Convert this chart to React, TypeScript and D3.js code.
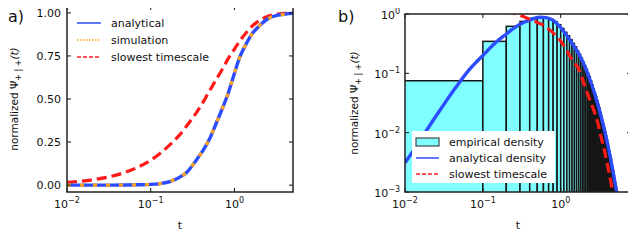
import React from 'react';
import * as d3 from 'd3';

// panel a: cumulative curves
const cdfT = [0.01, 0.02, 0.035, 0.05, 0.07, 0.1, 0.13, 0.17, 0.22, 0.27, 0.35, 0.42, 0.5, 0.6, 0.73, 0.83, 1.0, 1.15, 1.38, 1.6, 1.81, 2.2, 2.6, 3.2, 4.1, 5.0];
const analyticalCdf = [0.0, 0.0, 0.0, 0.001, 0.002, 0.004, 0.009, 0.02, 0.045, 0.075, 0.145, 0.2, 0.265, 0.355, 0.455, 0.525, 0.65, 0.74, 0.82, 0.875, 0.905, 0.945, 0.97, 0.985, 0.993, 0.997];
const simulationCdf = [0.0, 0.0, 0.0, 0.001, 0.002, 0.004, 0.009, 0.021, 0.046, 0.076, 0.146, 0.2, 0.266, 0.356, 0.456, 0.524, 0.651, 0.74, 0.821, 0.874, 0.906, 0.945, 0.97, 0.985, 0.993, 0.997];
const slowestCdf = [0.016, 0.031, 0.053, 0.075, 0.104, 0.145, 0.185, 0.235, 0.29, 0.345, 0.42, 0.48, 0.545, 0.61, 0.68, 0.73, 0.79, 0.835, 0.885, 0.92, 0.942, 0.968, 0.983, 0.993, 0.998, 0.999];

// panel b: densities
const densT = [0.01, 0.015, 0.02, 0.03, 0.045, 0.065, 0.1, 0.15, 0.2, 0.27, 0.35, 0.45, 0.55, 0.65, 0.8, 1.0, 1.25, 1.5, 1.75, 2.0, 2.5, 3.0, 3.5, 4.0, 4.5, 5.0, 5.3];
const analyticalDens = [0.0031, 0.0068, 0.0122, 0.027, 0.058, 0.11, 0.2, 0.34, 0.46, 0.62, 0.74, 0.84, 0.88, 0.87, 0.78, 0.59, 0.4, 0.28, 0.2, 0.14, 0.065, 0.03, 0.014, 0.0065, 0.003, 0.0014, 0.00093];
const slowT = [0.2, 0.27, 0.4, 0.65, 1.05, 1.4, 1.72, 2.0, 2.32, 2.6, 2.94, 3.3, 3.7, 4.1, 4.6, 5.0];
const slowDens = [1.12, 1.0, 0.81, 0.6, 0.32, 0.17, 0.114, 0.066, 0.038, 0.026, 0.016, 0.0085, 0.0046, 0.0024, 0.0011, 0.0006];

// empirical histogram, bins of width 0.1 starting at 0
const binWidth = 0.1;
const histHeights = [
  0.075, 0.346, 0.62, 0.75, 0.84, 0.87, 0.86, 0.81, 0.74, 0.66,
  0.57, 0.49, 0.43, 0.37, 0.32, 0.28, 0.24, 0.21, 0.18, 0.155,
  0.135, 0.118, 0.1, 0.088, 0.075, 0.064, 0.055, 0.047, 0.041, 0.035,
  0.03, 0.026, 0.022, 0.019, 0.016, 0.014, 0.012, 0.0102, 0.0088, 0.0076,
  0.0065, 0.0056, 0.0048, 0.0041, 0.0036, 0.003, 0.0026, 0.0023, 0.0019, 0.0017,
  0.0014, 0.0012, 0.0011, 0.0009,
];

const aYTicks = [0, 0.25, 0.5, 0.75, 1.0];
const aYLabels = ['0.00', '0.25', '0.50', '0.75', '1.00'];
const logXTicks = [0.01, 0.1, 1];
const logXExp = ['\u22122', '\u22121', '0'];
const bYTicks = [1, 0.1, 0.01, 0.001];
const bYExp = ['0', '\u22121', '\u22122', '\u22123'];

const BLUE = '#2b4cff';
const RED = '#ff1a1a';
const ORANGE = '#ffa31a';
const CYAN = '#7fffff';
const FONT = 'DejaVu Sans, sans-serif';

const Pow10 = ({ x, y, exp, anchor }: { x: number; y: number; exp: string; anchor: string }) => (
  <text x={x} y={y} textAnchor={anchor as any} fontSize={11} fontFamily={FONT} fill="#111">
    10<tspan dy={-5} fontSize={8}>{exp}</tspan>
  </text>
);

const YLabel = ({ x, y }: { x: number; y: number }) => (
  <text transform={`translate(${x},${y}) rotate(-90)`} textAnchor="middle" fontSize={10.5} fontFamily={FONT} fill="#111">
    normalized Ψ<tspan dy={3} fontSize={8}>+ | +</tspan>
    <tspan dy={-3} fontStyle="italic">(t)</tspan>
  </text>
);

export default function App() {
  // panel a scales
  const ax = d3.scaleLog().domain([0.01, 5]).range([67, 293]);
  const ay = d3.scaleLinear().domain([-0.04, 1.04]).range([192, 6]);
  // panel b scales
  const bx = d3.scaleLog().domain([0.01, 8]).range([405, 631]);
  const by = d3.scaleLog().domain([0.001, 1]).range([192, 14]);

  const lineA = (ys: number[]) =>
    d3.line<number>().x((_, i) => ax(cdfT[i])).y((d) => ay(d)).curve(d3.curveMonotoneX)(ys) || '';
  const lineB = (ts: number[], ys: number[]) =>
    d3.line<number>().x((_, i) => bx(ts[i])).y((d) => by(d)).curve(d3.curveMonotoneX)(ys) || '';

  const [axL, axR] = ax.range();
  const [ayB, ayT] = ay.range();
  const [bxL, bxR] = bx.range();
  const [byB, byT] = by.range();

  return (
    <svg width={620} height={233} style={{ display: 'block' }} viewBox="8 8 620 233">
      <defs>
        <clipPath id="clipA"><rect x={axL} y={ayT} width={axR - axL} height={ayB - ayT} /></clipPath>
        <clipPath id="clipB"><rect x={bxL} y={byT} width={bxR - bxL} height={byB - byT} /></clipPath>
      </defs>
      <rect x={0} y={0} width={640} height={250} fill="#fff" />

      {/* ---------- panel a ---------- */}
      <text x={8} y={22} fontSize={16} fontFamily={FONT} fill="#111">a)</text>
      <g clipPath="url(#clipA)">
        <path d={lineA(slowestCdf)} fill="none" stroke={RED} strokeWidth={3.2} strokeDasharray="10,5" />
        <path d={lineA(analyticalCdf)} fill="none" stroke={BLUE} strokeWidth={3.4} />
        <path d={lineA(simulationCdf)} fill="none" stroke={ORANGE} strokeWidth={3.2} strokeDasharray="4,9" />
      </g>
      {aYTicks.map((v, i) => (
        <g key={'ay' + i}>
          <line x1={axL} x2={axL + 4} y1={ay(v)} y2={ay(v)} stroke="#111" />
          <line x1={axR} x2={axR - 4} y1={ay(v)} y2={ay(v)} stroke="#111" />
          <text x={axL - 6} y={ay(v) + 4} textAnchor="end" fontSize={11} fontFamily={FONT} fill="#111">{aYLabels[i]}</text>
        </g>
      ))}
      {logXTicks.map((t, i) => (
        <g key={'ax' + i}>
          <line x1={ax(t)} x2={ax(t)} y1={ayB} y2={ayB - 4} stroke="#111" />
          <line x1={ax(t)} x2={ax(t)} y1={ayT} y2={ayT + 4} stroke="#111" />
          <Pow10 x={ax(t)} y={208} exp={logXExp[i]} anchor="middle" />
        </g>
      ))}
      <rect x={axL} y={ayT} width={axR - axL} height={ayB - ayT} fill="none" stroke="#222" strokeWidth={1.5} />
      <text x={(axL + axR) / 2} y={229} textAnchor="middle" fontSize={11} fontFamily={FONT} fill="#111">t</text>
      <YLabel x={18} y={99} />
      {/* legend a */}
      <g fontFamily={FONT} fontSize={11} fill="#111">
        <line x1={77} x2={101} y1={23} y2={23} stroke={BLUE} strokeWidth={1.5} />
        <text x={111} y={27}>analytical</text>
        <line x1={77} x2={101} y1={40} y2={40} stroke={ORANGE} strokeWidth={1.5} strokeDasharray="1.5,1.5" />
        <text x={111} y={44}>simulation</text>
        <line x1={77} x2={101} y1={57} y2={57} stroke={RED} strokeWidth={1.5} strokeDasharray="4,2" />
        <text x={111} y={61}>slowest timescale</text>
      </g>

      {/* ---------- panel b ---------- */}
      <text x={338} y={22} fontSize={16} fontFamily={FONT} fill="#111">b)</text>
      <g clipPath="url(#clipB)">
        {histHeights.map((h, i) => {
          const x0 = Math.max(i * binWidth, 0.005);
          const x1 = (i + 1) * binWidth;
          return (
            <rect key={'h' + i} x={bx(x0)} y={by(h)} width={bx(x1) - bx(x0)} height={Math.max(0, byB + 2 - by(h))}
              fill={CYAN} stroke="#161616" strokeWidth={1.5} />
          );
        })}
        <path d={lineB(densT, analyticalDens)} fill="none" stroke={BLUE} strokeWidth={3.4} />
        <path d={lineB(slowT, slowDens)} fill="none" stroke={RED} strokeWidth={3.2} strokeDasharray="10,5" />
      </g>
      {bYTicks.map((v, i) => (
        <g key={'by' + i}>
          <line x1={bxL} x2={bxL + 4} y1={by(v)} y2={by(v)} stroke="#111" />
          <line x1={bxR} x2={bxR - 4} y1={by(v)} y2={by(v)} stroke="#111" />
          <Pow10 x={bxL - 5} y={by(v) + 5} exp={bYExp[i]} anchor="end" />
        </g>
      ))}
      {logXTicks.map((t, i) => (
        <g key={'bx' + i}>
          <line x1={bx(t)} x2={bx(t)} y1={byB} y2={byB - 4} stroke="#111" />
          <line x1={bx(t)} x2={bx(t)} y1={byT} y2={byT + 4} stroke="#111" />
          <Pow10 x={bx(t)} y={208} exp={logXExp[i]} anchor="middle" />
        </g>
      ))}
      <rect x={bxL} y={byT} width={bxR - bxL} height={byB - byT} fill="none" stroke="#222" strokeWidth={1.5} />
      <text x={(bxL + bxR) / 2} y={229} textAnchor="middle" fontSize={11} fontFamily={FONT} fill="#111">t</text>
      <YLabel x={358} y={103} />
      {/* legend b */}
      <g fontFamily={FONT} fontSize={11} fill="#111">
        <rect x={412} y={131} width={143} height={52} fill="#fff" />
        <rect x={416} y={138} width={23} height={8} fill={CYAN} stroke="#444" strokeWidth={1.2} />
        <text x={449} y={146}>empirical density</text>
        <line x1={416} x2={439} y1={158} y2={158} stroke={BLUE} strokeWidth={1.5} />
        <text x={449} y={162}>analytical density</text>
        <line x1={416} x2={439} y1={174} y2={174} stroke={RED} strokeWidth={1.5} strokeDasharray="4,2" />
        <text x={449} y={178}>slowest timescale</text>
      </g>
    </svg>
  );
}
